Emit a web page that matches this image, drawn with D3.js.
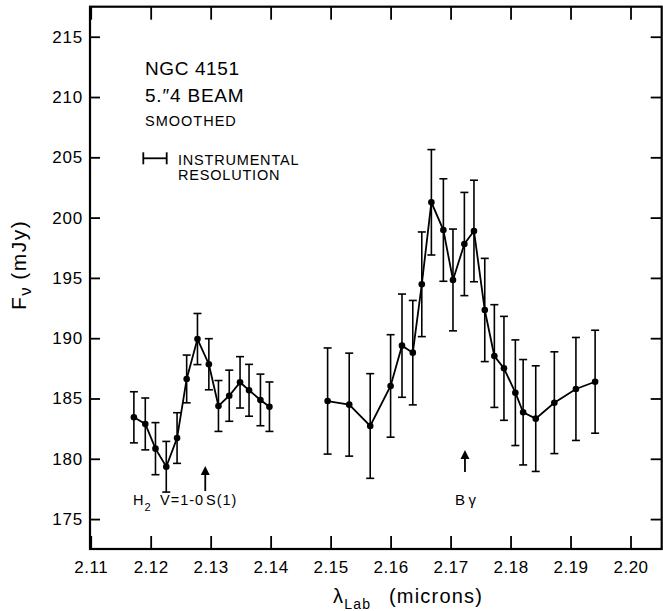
<!DOCTYPE html>
<html>
<head>
<meta charset="utf-8">
<script src="https://cdn.jsdelivr.net/npm/d3@7"></script>
<style>
  html, body { margin: 0; padding: 0; background: #fff; }
  svg { display: block; font-family: "Liberation Sans", Arial, sans-serif; }
</style>
</head>
<body>
<svg id="chart" width="663" height="611"></svg>
<script>
// ---- data ----
const xTicks = [2.11, 2.12, 2.13, 2.14, 2.15, 2.16, 2.17, 2.18, 2.19, 2.20];
const xTickLabels = ["2.11", "2.12", "2.13", "2.14", "2.15", "2.16", "2.17", "2.18", "2.19", "2.20"];
const yTicks = [175, 180, 185, 190, 195, 200, 205, 210, 215];
const yTickLabels = ["175", "180", "185", "190", "195", "200", "205", "210", "215"];

// H2 region (left segment)
const h2Wave = [2.1172, 2.1191, 2.1208, 2.1226, 2.1244, 2.1260, 2.1278, 2.1297, 2.1313, 2.1331, 2.1349, 2.1364, 2.1383, 2.1398];
const h2Flux = [183.44, 182.89, 180.84, 179.34, 181.72, 186.62, 189.93, 187.84, 184.38, 185.23, 186.34, 185.68, 184.88, 184.32];
const h2Err  = [2.12, 2.15, 2.16, 2.10, 2.10, 1.98, 2.12, 2.12, 2.11, 2.12, 2.13, 2.15, 2.14, 2.05];

// Br-gamma region (right segment)
const bgWave = [2.1495, 2.1531, 2.1566, 2.1600, 2.1619, 2.1637, 2.1652, 2.1668, 2.1688, 2.1704, 2.1723, 2.1739, 2.1757, 2.1773, 2.1789, 2.1808, 2.1821, 2.1842, 2.1873, 2.1909, 2.1941];
const bgFlux = [184.79, 184.49, 182.72, 186.04, 189.38, 188.80, 194.47, 201.27, 198.97, 194.83, 197.81, 198.89, 192.34, 188.52, 187.50, 185.48, 183.86, 183.33, 184.65, 185.79, 186.39];
const bgErr  = [4.40, 4.27, 4.34, 4.25, 4.28, 4.33, 4.34, 4.37, 4.25, 4.22, 4.28, 4.21, 4.28, 4.26, 4.31, 4.38, 4.37, 4.38, 4.22, 4.27, 4.27];

// line identifications (redshifted wavelengths)
const lineWaves = [2.1291, 2.1724];
const resolutionWidth = 0.0039; // microns

// ---- chart ----
(function () {
const svg = d3.select("#chart");
const mL = 90, mR = 661.7, mT = 6.7, mB = 549;
const x = d3.scaleLinear().domain([2.11, 2.2052]).range([90.7, mR]);
const y = d3.scaleLinear().domain([172.56, 217.49]).range([548.5, mT]);

const g = svg.append("g");

// axes (ticks inward)
const axB = g.append("g").attr("transform", `translate(0,${mB})`)
  .call(d3.axisBottom(x).tickValues(xTicks).tickSize(-13).tickFormat((d, i) => xTickLabels[i]).tickPadding(12));
const axT = g.append("g").attr("transform", `translate(0,${mT})`)
  .call(d3.axisTop(x).tickValues(xTicks).tickSize(-13).tickFormat(""));
const axL = g.append("g").attr("transform", `translate(${mL},0)`)
  .call(d3.axisLeft(y).tickValues(yTicks).tickSize(-10).tickFormat((d, i) => yTickLabels[i]).tickPadding(7));
const axR = g.append("g").attr("transform", `translate(${mR},0)`)
  .call(d3.axisRight(y).tickValues(yTicks).tickSize(-11).tickFormat(""));

[axB, axT, axL, axR].forEach(a => {
  a.select(".domain").remove();
  a.selectAll(".tick line").attr("stroke", "#000").attr("stroke-width", 1.8);
});
axB.selectAll(".tick text").attr("font-size", 17).attr("fill", "#000").attr("letter-spacing", 0.5);
axL.selectAll(".tick text").attr("font-size", 17).attr("fill", "#000").attr("letter-spacing", 0.8);

// frame
g.append("rect").attr("x", mL).attr("y", mT).attr("width", mR - mL).attr("height", mB - mT)
  .attr("fill", "none").attr("stroke", "#000").attr("stroke-width", 2.2);

// series drawing
function drawSeries(wave, flux, err) {
  const pts = wave.map((w, i) => ({ w, f: flux[i], e: err[i] }));
  const eb = g.append("g").attr("stroke", "#000").attr("stroke-width", 1.6);
  pts.forEach(p => {
    const cx = x(p.w), y1 = y(p.f + p.e), y2 = y(p.f - p.e);
    eb.append("line").attr("x1", cx).attr("x2", cx).attr("y1", y1).attr("y2", y2);
    eb.append("line").attr("x1", cx - 4).attr("x2", cx + 4).attr("y1", y1).attr("y2", y1);
    eb.append("line").attr("x1", cx - 4).attr("x2", cx + 4).attr("y1", y2).attr("y2", y2);
  });
  g.append("path").datum(pts)
    .attr("d", d3.line().x(p => x(p.w)).y(p => y(p.f)))
    .attr("fill", "none").attr("stroke", "#000").attr("stroke-width", 1.8);
  g.append("g").selectAll("circle").data(pts).join("circle")
    .attr("cx", p => x(p.w)).attr("cy", p => y(p.f)).attr("r", 3.3).attr("fill", "#000");
}
drawSeries(h2Wave, h2Flux, h2Err);
drawSeries(bgWave, bgFlux, bgErr);

// arrows
const arrowY = [[466, 491], [450, 472]];
lineWaves.forEach((w, i) => {
  const ax = x(w), [t, b] = arrowY[i];
  g.append("line").attr("x1", ax).attr("x2", ax).attr("y1", t + 6).attr("y2", b)
    .attr("stroke", "#000").attr("stroke-width", 1.8);
  g.append("path").attr("d", `M${ax},${t} L${ax - 4.5},${t + 9} L${ax + 4.5},${t + 9} Z`).attr("fill", "#000");
});

// line labels
const h2 = g.append("text").attr("y", 505).attr("font-size", 14.5).attr("letter-spacing", 1);
h2.append("tspan").attr("x", 133).text("H");
h2.append("tspan").attr("font-size", 11).attr("dy", 6).text("2");
h2.append("tspan").attr("x", 160).attr("dy", -6).text("V=1-0");
h2.append("tspan").attr("x", 206).text("S(1)");
g.append("text").attr("x", 455).attr("y", 505).attr("font-size", 15).attr("letter-spacing", 3.5).text("Bγ");

// upper-left annotation
g.append("text").attr("x", 145).attr("y", 75).attr("font-size", 19).attr("letter-spacing", 0.6).text("NGC 4151");
const beam = g.append("text").attr("x", 145).attr("y", 102).attr("font-size", 19).attr("letter-spacing", 0.8);
beam.append("tspan").text("5.″4 BEAM");
g.append("text").attr("x", 145).attr("y", 126).attr("font-size", 14.5).attr("letter-spacing", 1).text("SMOOTHED");

// instrumental resolution bar
const rx0 = 143.3, ry = 158.3, rw = x(2.11 + resolutionWidth) - x(2.11);
const rb = g.append("g").attr("stroke", "#000").attr("stroke-width", 1.8);
rb.append("line").attr("x1", rx0).attr("x2", rx0 + rw).attr("y1", ry).attr("y2", ry);
rb.append("line").attr("x1", rx0).attr("x2", rx0).attr("y1", ry - 6).attr("y2", ry + 6);
rb.append("line").attr("x1", rx0 + rw).attr("x2", rx0 + rw).attr("y1", ry - 6).attr("y2", ry + 6);
g.append("text").attr("x", 178).attr("y", 165).attr("font-size", 14.5).attr("letter-spacing", 0.8).text("INSTRUMENTAL");
g.append("text").attr("x", 178).attr("y", 180).attr("font-size", 14.5).attr("letter-spacing", 0.8).text("RESOLUTION");

// axis titles
const xt = g.append("text").attr("x", 333).attr("y", 603).attr("font-size", 20).attr("letter-spacing", 1.2);
xt.append("tspan").text("λ");
xt.append("tspan").attr("font-size", 14).attr("dy", 6).text("Lab");
xt.append("tspan").attr("x", 389).attr("dy", -6).text("(microns)");

const yt = g.append("text").attr("transform", "translate(26,310) rotate(-90)").attr("font-size", 21).attr("letter-spacing", 1.5);
yt.append("tspan").text("F");
yt.append("tspan").attr("font-size", 17).attr("dy", 5).text("ν");
yt.append("tspan").attr("dy", -5).attr("dx", 6).text("(mJy)");
})();
</script>
</body>
</html>
